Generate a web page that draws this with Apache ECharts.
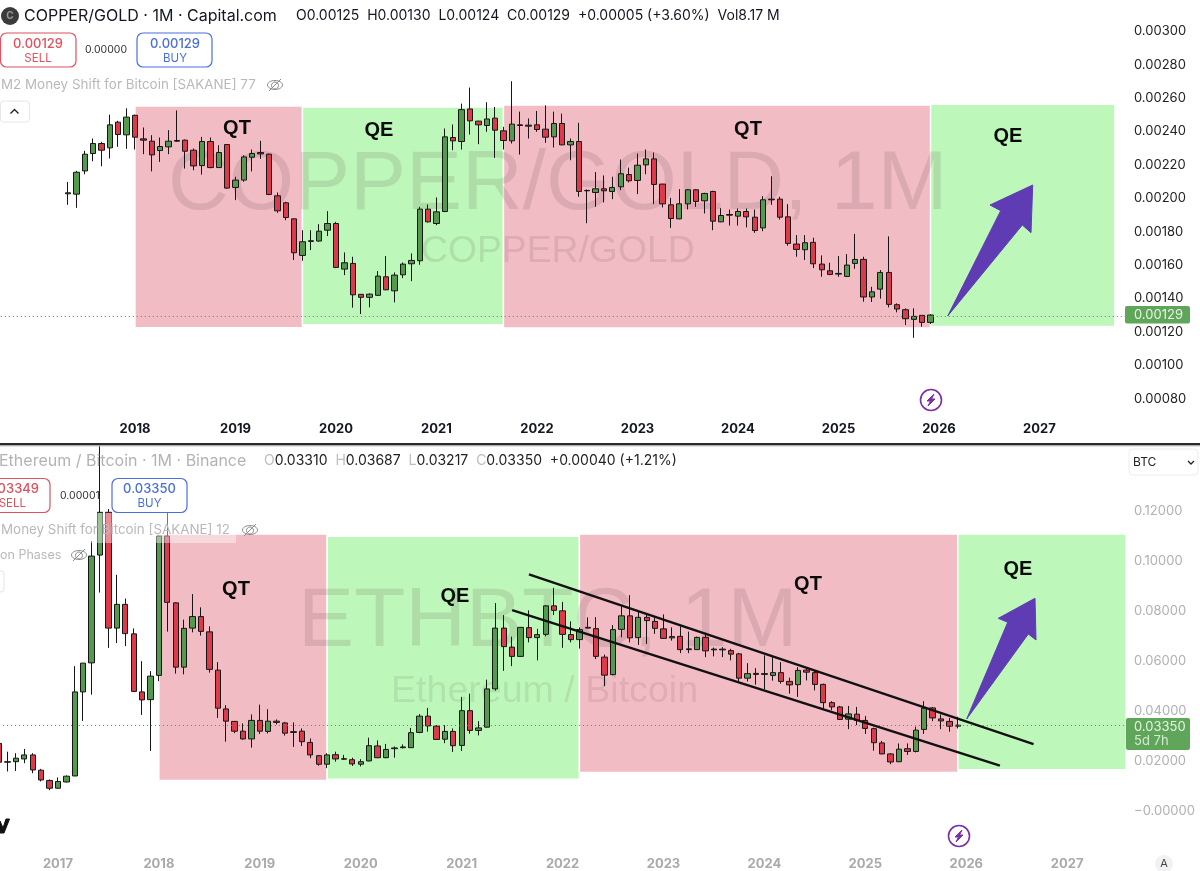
<!DOCTYPE html>
<html>
<head>
<meta charset="utf-8">
<style>html,body{margin:0;padding:0;background:#fff;overflow:hidden}#c{width:1210px;height:871px;margin-left:-10px}</style>
<script src="https://cdn.jsdelivr.net/npm/echarts@6/dist/echarts.min.js"></script>
</head>
<body>
<div id="c"></div>
<script>
// COPPER/GOLD monthly candles, May 2017 to Dec 2025
var copperStart = '2017-05';
var copperOpen = [0.002021,0.002019,0.002158,0.002262,0.002322,0.002296,0.002450,0.002374,0.002491,0.002350,
0.002336,0.002280,0.002302,0.002340,0.002342,0.002282,0.002190,0.002334,0.002178,0.002316,
0.002059,0.002103,0.002240,0.002268,0.002258,0.002009,0.001967,0.001871,0.001652,0.001736,
0.001738,0.001803,0.001843,0.001570,0.001604,0.001419,0.001401,0.001413,0.001524,0.001440,
0.001536,0.001602,0.001620,0.001929,0.001843,0.001915,0.002358,0.002334,0.002529,0.002456,
0.002430,0.002474,0.002398,0.002338,0.002434,0.002432,0.002434,0.002408,0.002362,0.002442,
0.002314,0.002334,0.002041,0.002029,0.002051,0.002035,0.002063,0.002136,0.002101,0.002194,
0.002230,0.002079,0.001955,0.001871,0.001961,0.002045,0.001979,0.002035,0.001853,0.001897,
0.001887,0.001915,0.001881,0.001817,0.001989,0.001989,0.001883,0.001720,0.001686,0.001730,
0.001600,0.001560,0.001544,0.001526,0.001604,0.001628,0.001403,0.001450,0.001550,0.001357,
0.001327,0.001269,0.001293,0.001251];
var copperClose = [0.002027,0.002150,0.002258,0.002322,0.002282,0.002434,0.002376,0.002480,0.002360,0.002342,
0.002254,0.002304,0.002336,0.002336,0.002276,0.002188,0.002334,0.002178,0.002268,0.002055,
0.002103,0.002242,0.002262,0.002260,0.002017,0.001919,0.001879,0.001668,0.001734,0.001740,
0.001797,0.001843,0.001580,0.001608,0.001416,0.001401,0.001420,0.001528,0.001446,0.001534,
0.001600,0.001622,0.001929,0.001853,0.001913,0.002362,0.002338,0.002525,0.002458,0.002434,
0.002469,0.002402,0.002340,0.002438,0.002430,0.002426,0.002406,0.002360,0.002442,0.002314,
0.002334,0.002035,0.002039,0.002051,0.002039,0.002059,0.002141,0.002099,0.002192,0.002230,
0.002077,0.001961,0.001873,0.001961,0.002045,0.001975,0.002023,0.001857,0.001891,0.001893,
0.001915,0.001883,0.001801,0.001985,0.001985,0.001881,0.001724,0.001688,0.001728,0.001602,
0.001566,0.001538,0.001540,0.001594,0.001628,0.001403,0.001434,0.001550,0.001359,0.001331,
0.001273,0.001287,0.001251,0.001295];
var copperLow = [0.001955,0.001937,0.002138,0.002216,0.002186,0.002232,0.002302,0.002290,0.002286,0.002258,
0.002155,0.002212,0.002258,0.002332,0.002172,0.002162,0.002136,0.002174,0.002176,0.002051,
0.001983,0.002093,0.002155,0.002230,0.002013,0.001907,0.001863,0.001624,0.001620,0.001684,
0.001734,0.001768,0.001576,0.001534,0.001339,0.001301,0.001341,0.001409,0.001444,0.001371,
0.001516,0.001498,0.001596,0.001849,0.001833,0.001911,0.002282,0.002286,0.002376,0.002318,
0.002392,0.002236,0.002286,0.002322,0.002256,0.002352,0.002392,0.002326,0.002298,0.002312,
0.002222,0.002003,0.001845,0.001943,0.001969,0.001989,0.002043,0.002089,0.002019,0.002138,
0.001959,0.001939,0.001817,0.001869,0.001927,0.001943,0.001903,0.001803,0.001851,0.001831,
0.001831,0.001820,0.001787,0.001797,0.001955,0.001867,0.001710,0.001644,0.001624,0.001576,
0.001524,0.001534,0.001524,0.001524,0.001572,0.001375,0.001373,0.001393,0.001341,0.001311,
0.001235,0.001159,0.001225,0.001241];
var copperHigh = [0.002092,0.002158,0.002278,0.002352,0.002332,0.002495,0.002458,0.002533,0.002495,0.002418,
0.002372,0.002358,0.002402,0.002520,0.002346,0.002292,0.002362,0.002358,0.002312,0.002318,
0.002123,0.002252,0.002286,0.002338,0.002262,0.002029,0.001973,0.001873,0.001803,0.001803,
0.001839,0.001917,0.001853,0.001670,0.001644,0.001420,0.001425,0.001558,0.001648,0.001550,
0.001610,0.001664,0.001943,0.001957,0.001999,0.002412,0.002436,0.002561,0.002657,0.002458,
0.002569,0.002541,0.002422,0.002695,0.002513,0.002472,0.002517,0.002551,0.002513,0.002501,
0.002352,0.002446,0.002047,0.002151,0.002131,0.002123,0.002226,0.002178,0.002262,0.002286,
0.002268,0.002081,0.001997,0.002049,0.002049,0.002049,0.002027,0.002039,0.001935,0.001927,
0.001933,0.001933,0.001927,0.002007,0.002126,0.002003,0.001959,0.001774,0.001774,0.001758,
0.001652,0.001608,0.001648,0.001660,0.001781,0.001644,0.001464,0.001564,0.001766,0.001365,
0.001335,0.001335,0.001295,0.001301];

// ETH/BTC monthly candles, Jun 2016 to Dec 2025
var ethStart = '2016-06';
var ethOpen = [0.0262,0.0189,0.0189,0.0200,0.0216,0.0155,0.0114,
0.0083,0.0108,0.0132,0.0468,0.0584,0.1015,0.1186,0.0723,0.0818,0.0700,0.0468,0.0437,
0.0534,0.1091,0.0824,0.0567,0.0723,0.0769,0.0708,0.0555,0.0400,0.0350,0.0311,0.0280,
0.0354,0.0310,0.0351,0.0344,0.0309,0.0311,0.0266,0.0213,0.0179,0.0217,0.0201,0.0197,
0.0179,0.0192,0.0252,0.0205,0.0241,0.0245,0.0245,0.0306,0.0371,0.0331,0.0279,0.0310,
0.0254,0.0393,0.0314,0.0327,0.0480,0.0723,0.0647,0.0610,0.0725,0.0685,0.0698,0.0812,
0.0792,0.0697,0.0677,0.0726,0.0721,0.0607,0.0537,0.0718,0.0772,0.0685,0.0766,0.0750,
0.0720,0.0684,0.0690,0.0640,0.0637,0.0686,0.0639,0.0639,0.0633,0.0620,0.0523,0.0542,
0.0541,0.0534,0.0545,0.0510,0.0497,0.0555,0.0545,0.0498,0.0425,0.0408,0.0359,0.0379,
0.0354,0.0321,0.0264,0.0220,0.0189,0.0241,0.0230,0.0318,0.0404,0.0360,0.0350,0.0331];
var ethClose = [0.0187,0.0187,0.0203,0.0216,0.0156,0.0116,0.0083,
0.0110,0.0131,0.0468,0.0583,0.1011,0.1186,0.0723,0.0818,0.0701,0.0470,0.0436,0.0531,
0.1091,0.0826,0.0567,0.0722,0.0769,0.0710,0.0558,0.0403,0.0351,0.0311,0.0280,0.0354,
0.0311,0.0351,0.0346,0.0303,0.0306,0.0269,0.0216,0.0179,0.0216,0.0200,0.0199,0.0180,
0.0189,0.0253,0.0205,0.0238,0.0244,0.0248,0.0305,0.0371,0.0332,0.0278,0.0310,0.0253,
0.0393,0.0314,0.0324,0.0480,0.0723,0.0649,0.0610,0.0726,0.0685,0.0697,0.0812,0.0794,
0.0698,0.0677,0.0717,0.0723,0.0610,0.0535,0.0717,0.0772,0.0684,0.0766,0.0753,0.0722,
0.0682,0.0689,0.0637,0.0637,0.0686,0.0632,0.0636,0.0636,0.0619,0.0523,0.0541,0.0538,
0.0538,0.0545,0.0510,0.0496,0.0554,0.0547,0.0498,0.0425,0.0408,0.0358,0.0380,0.0354,
0.0322,0.0265,0.0220,0.0188,0.0239,0.0230,0.0315,0.0403,0.0364,0.0352,0.0331,0.0335];
var ethLow = [0.0176,0.0150,0.0152,0.0183,0.0143,0.0110,0.0075,
0.0081,0.0106,0.0131,0.0352,0.0457,0.0865,0.0644,0.0663,0.0651,0.0469,0.0376,0.0232,
0.0511,0.0709,0.0541,0.0538,0.0706,0.0693,0.0545,0.0364,0.0269,0.0303,0.0277,0.0245,
0.0300,0.0302,0.0338,0.0293,0.0248,0.0252,0.0203,0.0173,0.0163,0.0189,0.0196,0.0172,
0.0170,0.0191,0.0203,0.0203,0.0205,0.0242,0.0244,0.0303,0.0309,0.0277,0.0263,0.0228,
0.0232,0.0301,0.0294,0.0326,0.0473,0.0552,0.0571,0.0608,0.0666,0.0594,0.0690,0.0775,
0.0644,0.0666,0.0641,0.0722,0.0599,0.0491,0.0534,0.0686,0.0666,0.0656,0.0660,0.0700,
0.0680,0.0673,0.0623,0.0623,0.0636,0.0607,0.0610,0.0607,0.0594,0.0508,0.0510,0.0497,
0.0478,0.0513,0.0501,0.0461,0.0448,0.0514,0.0474,0.0402,0.0395,0.0356,0.0319,0.0335,
0.0300,0.0233,0.0219,0.0179,0.0187,0.0216,0.0226,0.0300,0.0351,0.0319,0.0309,0.03217];
var ethHigh = [0.0282,0.0229,0.0223,0.0240,0.0223,0.0160,0.0118,
0.0126,0.0134,0.0571,0.0584,0.1071,0.1453,0.1199,0.0936,0.0841,0.0722,0.0591,0.0551,
0.1093,0.1183,0.0826,0.0757,0.0859,0.0806,0.0730,0.0587,0.0415,0.0352,0.0342,0.0378,
0.0417,0.0399,0.0358,0.0348,0.0346,0.0322,0.0282,0.0216,0.0223,0.0229,0.0216,0.0205,
0.0199,0.0285,0.0274,0.0260,0.0250,0.0258,0.0324,0.0379,0.0404,0.0335,0.0335,0.0322,
0.0448,0.0461,0.0351,0.0517,0.0823,0.0775,0.0689,0.0727,0.0794,0.0720,0.0815,0.0884,
0.0828,0.0750,0.0726,0.0766,0.0767,0.0617,0.0735,0.0810,0.0855,0.0788,0.0783,0.0766,
0.0778,0.0726,0.0730,0.0709,0.0689,0.0704,0.0645,0.0647,0.0640,0.0624,0.0583,0.0563,
0.0614,0.0607,0.0587,0.0525,0.0567,0.0563,0.0554,0.0501,0.0431,0.0412,0.0412,0.0408,
0.0372,0.0325,0.0272,0.0223,0.0262,0.0262,0.0329,0.0431,0.0408,0.0378,0.0364,0.03687];

var copperYears = ['2018','2019','2020','2021','2022','2023','2024','2025','2026','2027'];
var ethYears = ['2017','2018','2019','2020','2021','2022','2023','2024','2025','2026','2027'];
var copperLast = 0.00129, ethLast = 0.0335;

// policy phases: [kind, from month, to month, bottom value, top value]
var copperPhases = [
 ['QT','2018-01','2019-09',0.001219,0.002547],
 ['QE','2019-09','2021-09',0.001237,0.002541],
 ['QT','2021-09','2025-12',0.001217,0.002553],
 ['QE','2025-12','2027-10',0.001227,0.002557]];
var ethPhases = [
 ['QT','2018-01','2019-09',0.01145,0.1099],
 ['QE','2019-09','2022-03',0.01190,0.1090],
 ['QT','2022-03','2025-12',0.01455,0.1099],
 ['QE','2025-12','2027-08',0.01570,0.1099]];
// channel lines: [from month, value, to month, value]
var ethChannel = [
 ['2021-09',0.0938,'2026-09',0.0259],
 ['2021-07',0.0795,'2026-05',0.0173]];

function months(start, count){
  var y=+start.slice(0,4), m=+start.slice(5,7)-1, out=[];
  for(var i=0;i<count;i++){var t=y*12+m+i;out.push(Math.floor(t/12)+'-'+('0'+(t%12+1)).slice(-2));}
  return out;
}
var topMonths = months('2016-09',135), botMonths = months('2016-06',135);
function candles(cats,start,o,c,l,h){
  var k=cats.indexOf(start);
  return cats.map(function(_,i){var j=i-k;return (j>=0&&j<o.length)?[o[j],c[j],l[j],h[j]]:['-','-','-','-'];});
}
var RED='#f2bcc5', GRN='#bef7ba';
function areas(ph){return ph.map(function(p){var col=p[0]==='QT'?RED:GRN;return [{xAxis:p[1],yAxis:p[4],itemStyle:{color:col,opacity:1,borderColor:'#fff',borderWidth:1.4}},{xAxis:p[2],yAxis:p[3]}];});}
var UI='Inter, "Liberation Sans", sans-serif', WM='"Liberation Sans", Arial, sans-serif';
var candleStyle={color:'#55994f',color0:'#dc3a4b',borderColor:'#161616',borderColor0:'#161616',borderColorDoji:'#161616',borderWidth:1};
function dotted(v){return {yAxis:v,symbol:'none',label:{show:false},lineStyle:{type:[1,3],width:1,color:'#3f9a3f',opacity:1}};}
var ethLines=[dotted(ethLast)].concat(ethChannel.map(function(l){return [{coord:[l[0],l[1]],symbol:'none',lineStyle:{type:'solid',width:2.4,color:'#111'},label:{show:false}},{coord:[l[2],l[3]],symbol:'none'}];}));

function T(x,y,text,size,color,o){o=o||{};var st={text:text,fill:color,fontSize:size,fontFamily:o.family||UI,fontWeight:o.weight||'normal',align:o.align||'left',verticalAlign:'middle',textAlign:o.align||'left',textVerticalAlign:'middle'};
  if(o.rich)st.rich=o.rich;return {type:'text',x:x,y:y,z:o.z||10,silent:true,style:st};}
function R(x,y,w,h,o){return {type:'rect',z:o.z||9,silent:true,shape:{x:x,y:y,width:w,height:h,r:o.r||0},style:{fill:o.fill||'#fff',stroke:o.stroke||null,lineWidth:o.lw||1}};}
function P(pts,fill,z){return {type:'polygon',z:z||8,silent:true,shape:{points:pts},style:{fill:fill,stroke:fill,lineWidth:1,lineJoin:'round'}};}
function eye(cx,cy){return {type:'group',silent:true,children:[
  {type:'ellipse',z:10,shape:{cx:cx,cy:cy,rx:7.5,ry:4.5},style:{fill:'none',stroke:'#8c8c8c',lineWidth:1}},
  {type:'ellipse',z:10,shape:{cx:cx,cy:cy+.5,rx:3.5,ry:3.5},style:{fill:'none',stroke:'#8c8c8c',lineWidth:1}},
  {type:'line',z:10,shape:{x1:cx-6,y1:cy+6,x2:cx+6,y2:cy-6},style:{stroke:'#8c8c8c',lineWidth:1}}]};}
function bolt(cx,cy){return {type:'group',silent:true,children:[
  {type:'circle',z:10,shape:{cx:cx,cy:cy,r:10.5},style:{fill:'#fff',stroke:'#7b2fa8',lineWidth:1.6}},
  P([[cx+3,cy-6],[cx-4,cy+1],[cx-.5,cy+1],[cx-3,cy+6],[cx+4,cy-1],[cx+.5,cy-1]],'#7b2fa8',11)]};}
function tradeBox(x,w,y,col,price,label,tx){return [
  R(x,y,w,34,{fill:'#fff',stroke:col,r:6,lw:1.2}),
  T(tx,y+11,price,13,col,{align:'center',weight:500}),
  T(tx,y+25.5,label,11.5,col,{align:'center'})];}

var g=[];
// watermarks
g.push(T(168,186,'COPPER/GOLD, 1M',84,'rgba(70,50,50,0.13)',{family:WM,z:1.5}));
g.push(T(421,252,'COPPER/GOLD',37.3,'rgba(70,50,50,0.12)',{family:WM,z:1.5}));
g.push(T(298,623,'ETHBTC, 1M',84,'rgba(70,50,50,0.13)',{family:WM,z:1.5}));
g.push(T(391,692,'Ethereum / Bitcoin',37.6,'rgba(70,50,50,0.10)',{family:WM,z:1.5}));
// phase words
[[237,128,'QT'],[379,130,'QE'],[748,129,'QT'],[1008,136,'QE'],[236,589,'QT'],[455,596,'QE'],[808,584,'QT'],[1018,569,'QE']].forEach(function(q){
  g.push(T(q[0],q[1],q[2],20,'#0a0a0a',{align:'center',weight:'bold',family:WM}));});
// arrows
g.push(P([[947.7,316],[1000.7,210.7],[990,205],[1032.7,185],[1031,232.7],[1022.3,225]],'#5f3cb4'));
g.push(P([[966.7,719],[1007.7,622.3],[998.3,618.3],[1035,598.3],[1036,640],[1028.3,634]],'#5f3cb4'));
// separator
g.push(R(0,443,1200,2.4,{fill:'#2b2b2b',z:12}));
g.push(R(0,445.4,1200,1.2,{fill:'#c9c9c9',z:12}));
// top header
g.push({type:'circle',z:10,silent:true,shape:{cx:10,cy:16,r:9},style:{fill:'#3b3b3b'}});
g.push(T(10,16,'C',10,'#9a9a9a',{align:'center',weight:'bold'}));
g.push(T(24,16,'COPPER/GOLD · 1M · Capital.com',16,'#131722'));
g.push(T(296,16,'O0.00125  H0.00130  L0.00124  C0.00129  +0.00005 (+3.60%)  Vol8.17 M',14,'#131722'));
g=g.concat(tradeBox(0.5,75.5,33,'#e0505e','0.00129','SELL',38));
g.push(T(106,50,'0.00000',10.5,'#333',{align:'center'}));
g=g.concat(tradeBox(137,75,33,'#4a6fdc','0.00129','BUY',175));
g.push(T(1,85,'M2 Money Shift for Bitcoin [SAKANE] 77',13.4,'#b9b9bd'));
g.push(eye(275,85));
g.push(R(0.5,101,29,21,{fill:'#fff',stroke:'#e6e6e6',r:3}));
g.push({type:'polyline',z:10,silent:true,shape:{points:[[10.5,113.5],[14.5,109.5],[18.5,113.5]]},style:{fill:'none',stroke:'#222',lineWidth:1.4}});
// top price badge
g.push(R(1125,306,65,17.5,{fill:'#5fa55a',r:2}));
g.push(T(1134,315,'0.00129',13,'#e9f5e6'));
g.push(bolt(931,400));
// bottom header
g.push(T(-1,461,'Ethereum / Bitcoin · 1M · Binance',16,'#b3b3b7'));
g.push(T(264,461,'{g|O}{k|0.03310}  {g|H}{k|0.03687}  {g|L}{k|0.03217}  {g|C}{k|0.03350}  {k|+0.00040 (+1.21%)}',14,'#131722',{rich:{g:{fill:'#bdbdc2',fontSize:14,fontFamily:UI},k:{fill:'#222',fontSize:14,fontFamily:UI}}}));
// faded legend strip over the candles
g.push(R(0,513,236,30,{fill:'rgba(255,255,255,0.42)',z:9}));
g.push(R(-10,478.5,60,34,{fill:'#fff',stroke:'#e0505e',r:6,lw:1.2}));
g.push(T(39,489.5,'0.03349',13,'#e0505e',{align:'right',weight:500}));
g.push(T(26,504,'SELL',11.5,'#e0505e',{align:'right'}));
g.push(T(60,496,'0.00001',10.5,'#333'));
g=g.concat(tradeBox(112,75,478.5,'#4a6fdc','0.03350','BUY',149.5));
g.push(T(1,530,'Money Shift for Bitcoin [SAKANE] 12',13.4,'#b9b9bd'));
g.push(eye(250,530));
g.push(T(0,555,'on Phases',12.5,'#b9b9bd'));
g.push(eye(79,555));
g.push(R(-10,571,14,21,{fill:'#fff',stroke:'#e6e6e6',r:3}));
g.push(P([[0,821],[3,828],[6,819],[9.5,819],[4,833],[0,833]],'#111',10));
// BTC selector
g.push(R(1129,449,69,26,{fill:'#fff',stroke:'#eeeeee',r:4}));
g.push(T(1133,462,'BTC',12,'#222'));
g.push({type:'polyline',z:10,silent:true,shape:{points:[[1188,461],[1191,464],[1194,461]]},style:{fill:'none',stroke:'#222',lineWidth:1.3}});
// bottom price badge
g.push(R(1126,718,64,32,{fill:'#5fa55a',r:2}));
g.push(T(1134,727,'0.03350',13,'#e9f5e6'));
g.push(T(1134,741,'5d 7h',13,'#d5ebd1'));
g.push(bolt(959,836));
g.push({type:'circle',z:10,silent:true,shape:{cx:1164,cy:864,r:9},style:{fill:'#f1f1f3'}});
g.push(T(1164,864,'A',11,'#444',{align:'center'}));

var chart=echarts.init(document.getElementById('c'),null,{renderer:'canvas'});
chart.setOption({
  animation:false,
  backgroundColor:'#fff',
  grid:[
    {left:6.8,top:30.3,width:1130.6,height:367.4},
    {left:4.9,top:445.5,width:1135.35,height:415.8}
  ],
  xAxis:[
    {type:'category',gridIndex:0,data:topMonths,boundaryGap:true,axisLine:{show:false},axisTick:{show:false},splitLine:{show:false},
     axisLabel:{margin:25,fontFamily:UI,fontSize:13,fontWeight:'bold',color:'#131722',hideOverlap:false,
       interval:function(i,v){return v.slice(5)==='01'&&copperYears.indexOf(v.slice(0,4))>=0;},
       formatter:function(v){return v.slice(0,4);}}},
    {type:'category',gridIndex:1,data:botMonths,boundaryGap:true,axisLine:{show:false},axisTick:{show:false},splitLine:{show:false},
     axisLabel:{margin:-1,fontFamily:UI,fontSize:13,fontWeight:'bold',color:'#a9a9ae',hideOverlap:false,
       interval:function(i,v){return v.slice(5)==='01'&&ethYears.indexOf(v.slice(0,4))>=0;},
       formatter:function(v){return v.slice(0,4);}}}
  ],
  yAxis:[
    {type:'value',gridIndex:0,position:'right',min:0.0008,max:0.003,interval:0.0002,axisLine:{show:false},axisTick:{show:false},splitLine:{show:false},
     axisLabel:{margin:6.6,fontFamily:UI,fontSize:13,color:'#222',
       rich:{a:{padding:[2,0,0,0],fontFamily:UI,fontSize:13,color:'#222'}},
       formatter:function(v){return '{a|'+v.toFixed(5)+'}';}}},
    {type:'value',gridIndex:1,position:'right',min:-0.02,max:0.1453,interval:0.02,axisLine:{show:false},axisTick:{show:false},splitLine:{show:false},
     axisLabel:{margin:3.8,fontFamily:UI,fontSize:13,color:'#b0b0b5',showMaxLabel:false,showMinLabel:false,
       rich:{a:{padding:[4,0,0,0],fontFamily:UI,fontSize:13,color:'#b0b0b5'}},
       formatter:function(v){if(v>0.125||v<-0.005)return '';if(Math.abs(v)<1e-9)return '{a|\u22120.00000}';return '{a|'+v.toFixed(5)+'}';}}}
  ],
  series:[
    {type:'candlestick',name:'COPPER/GOLD',xAxisIndex:0,yAxisIndex:0,barWidth:5.8,itemStyle:candleStyle,silent:true,z:2,
     data:candles(topMonths,copperStart,copperOpen,copperClose,copperLow,copperHigh),
     markArea:{silent:true,z:1,data:areas(copperPhases)},
     markLine:{silent:true,animation:false,symbol:'none',precision:8,data:[dotted(copperLast)]}},
    {type:'candlestick',name:'ETHBTC',xAxisIndex:1,yAxisIndex:1,barWidth:5.8,itemStyle:candleStyle,silent:true,z:2,
     data:candles(botMonths,ethStart,ethOpen,ethClose,ethLow,ethHigh),
     markArea:{silent:true,z:1,data:areas(ethPhases)},
     markLine:{silent:true,animation:false,symbol:'none',precision:8,data:ethLines}}
  ],
  graphic:{elements:[{type:'group',x:10,y:0,silent:true,children:g}]}
});
</script>
</body>
</html>
